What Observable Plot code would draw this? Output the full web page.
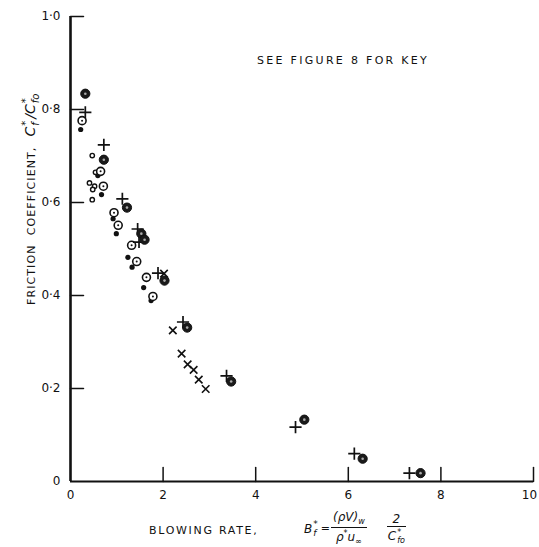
<!DOCTYPE html>
<html><head><meta charset="utf-8">
<script src="https://cdn.jsdelivr.net/npm/d3@7"></script>
<script src="https://cdn.jsdelivr.net/npm/@observablehq/plot@0.6"></script>
<style>
body{margin:0;background:#fff;}
#wrap{position:relative;width:539px;height:547px;overflow:hidden;font-family:"DejaVu Sans",sans-serif;color:#111;}
#wrap svg{position:absolute;left:0;top:0;}
.lbl{position:absolute;white-space:nowrap;line-height:1;}
.caps{font-size:11px;letter-spacing:1.1px;}
.it{font-style:italic;}
.ss{display:inline-flex;flex-direction:column;vertical-align:middle;font-size:9px;line-height:0.95;margin-left:1px;}
.frac{display:inline-flex;flex-direction:column;align-items:center;vertical-align:middle;font-size:12px;}
.frac .num{border-bottom:1.3px solid #111;padding:0 2px 1px 2px;}
.frac .den{padding-top:2px;}
</style></head><body><div id="wrap"></div>
<script>
// x: blowing rate B_f*, y: C_f*/C_fo*
const plusPts = [[0.32,0.794],[0.72,0.724],[1.12,0.608],[1.45,0.543],[1.48,0.515],[1.89,0.448],[2.43,0.343],[3.37,0.227],[4.86,0.117],[6.13,0.060],[7.32,0.018]];
const crossedPts = [[0.32,0.834],[0.72,0.692],[1.22,0.589],[1.53,0.533],[1.60,0.520],[2.03,0.432],[2.52,0.331],[3.47,0.215],[5.05,0.133],[6.31,0.049],[7.56,0.018]];
const dottedOpenPts = [[0.25,0.776],[0.65,0.667],[0.71,0.635],[0.94,0.578],[1.03,0.551],[1.32,0.508],[1.43,0.473],[1.64,0.439],[1.78,0.398]];
const filledPts = [[0.22,0.757],[0.59,0.658],[0.67,0.617],[0.92,0.565],[0.99,0.533],[1.24,0.482],[1.33,0.461],[1.58,0.417],[1.74,0.389]];
const smallOpenPts = [[0.47,0.701],[0.54,0.665],[0.41,0.642],[0.52,0.635],[0.48,0.628],[0.47,0.606]];
const timesPts = [[2.02,0.447],[2.21,0.325],[2.40,0.275],[2.53,0.252],[2.66,0.240],[2.77,0.219],[2.92,0.199]];

const xTickValues = [0,2,4,6,8,10];
const xTickLabels = ["0","2","4","6","8","10"];
const yTickValues = [0,0.2,0.4,0.6,0.8,1.0];
const yTickLabels = ["0","0·2","0·4","0·6","0·8","1·0"];

const tickShape = {draw(ctx, l){ ctx.moveTo(0,0); ctx.lineTo(0,-l); }};
const ink = "#111";
const fmtX = d => xTickLabels[xTickValues.indexOf(d)];

const chart = Plot.plot({
  width:539, height:547,
  marginLeft:70, marginRight:6, marginTop:16, marginBottom:66,
  x:{domain:[0,10]}, y:{domain:[0,1]},
  style:{fontFamily:"DejaVu Sans", fontSize:"12px", color:ink, background:"white"},
  marks:[
    Plot.axisX({ticks:xTickValues.slice(0,-1), tickSize:0, tickPadding:9, tickFormat:fmtX, label:null, fontSize:12}),
    Plot.axisX({ticks:xTickValues.slice(-1), tickSize:0, tickPadding:9, tickFormat:fmtX, label:null, fontSize:12, dx:-4}),
    Plot.axisY({ticks:yTickValues, tickSize:0, tickPadding:10, tickFormat:d=>yTickLabels[yTickValues.indexOf(d)], label:null, fontSize:12}),
    Plot.ruleX([0], {y1:0, y2:1, stroke:ink, strokeWidth:2.6}),
    Plot.ruleY([0], {x1:0, x2:10, stroke:ink, strokeWidth:2.2}),
    Plot.vector(yTickValues.filter(d=>d>0), {x:0, y:d=>d, length:13, rotate:90, anchor:"start", shape:tickShape, stroke:ink, strokeWidth:1.5}),
    Plot.vector(xTickValues.filter(d=>d>0), {x:d=>d, y:0, length:14, anchor:"start", shape:tickShape, stroke:ink, strokeWidth:1.5}),
    Plot.dot(filledPts, {x:d=>d[0], y:d=>d[1], r:2.6, fill:ink}),
    Plot.dot(smallOpenPts, {x:d=>d[0], y:d=>d[1], r:2.2, stroke:ink, strokeWidth:1.4, fill:"white"}),
    Plot.dot(dottedOpenPts, {x:d=>d[0], y:d=>d[1], r:4, stroke:ink, strokeWidth:1.6, fill:"white"}),
    Plot.dot(dottedOpenPts, {x:d=>d[0], y:d=>d[1], r:1, fill:ink}),
    Plot.dot(timesPts, {x:d=>d[0], y:d=>d[1], symbol:"times", r:3.5, stroke:ink, strokeWidth:1.6}),
    Plot.dot(plusPts, {x:d=>d[0], y:d=>d[1], symbol:"plus", r:4, stroke:ink, strokeWidth:1.7}),
    Plot.dot(crossedPts, {x:d=>d[0], y:d=>d[1], r:4.6, fill:"#1a1a1a", stroke:ink, strokeWidth:1}),
    Plot.dot(crossedPts, {x:d=>d[0], y:d=>d[1], r:1.3, fill:"#aaa"})
  ]
});
const wrap = document.getElementById("wrap");
wrap.appendChild(chart);

function addLabel(html, style){
  const el = document.createElement("div");
  el.className = "lbl";
  el.innerHTML = html;
  Object.assign(el.style, style);
  wrap.appendChild(el);
  return el;
}
addLabel("SEE FIGURE 8 FOR KEY", {left:"257px", top:"55px", fontSize:"11px", letterSpacing:"2.3px"});
addLabel("BLOWING RATE,", {left:"149px", top:"525px", fontSize:"11px", letterSpacing:"1.7px"});
addLabel(
  '<span class="it" style="font-size:12px">B</span><span class="ss it"><span>*</span><span>f</span></span>' +
  '<span style="font-size:11px;margin:0 1px 0 3px;vertical-align:middle">=</span>' +
  '<span class="frac it"><span class="num">(ρV)<sub style="font-size:8px">w</sub></span><span class="den">ρ<sup style="font-size:8px">*</sup>u<sub style="font-size:8px">∞</sub></span></span>' +
  '<span style="display:inline-block;width:20px"></span>' +
  '<span class="frac it"><span class="num">&nbsp;2&nbsp;</span><span class="den">C<span class="ss" style="font-size:8px"><span>*</span><span>fo</span></span></span></span>',
  {left:"304px", top:"511px"});
// y label (rotated)
const yl = addLabel(
  '<span class="caps">FRICTION&nbsp;&nbsp;COEFFICIENT,</span><span style="display:inline-block;width:10px"></span>' +
  '<span class="it" style="font-size:14px">C</span><span class="ss it" style="font-size:10px"><span>*</span><span>f</span></span>' +
  '<span class="it" style="font-size:14px;margin-left:2px">/C</span><span class="ss it" style="font-size:10px"><span>*</span><span>fo</span></span>',
  {left:"0px", top:"0px"});
const h = yl.offsetHeight;
yl.style.transformOrigin = "0 0";
yl.style.transform = `translate(${30 - h/2}px, ${305}px) rotate(-90deg)`;
</script></body></html>
